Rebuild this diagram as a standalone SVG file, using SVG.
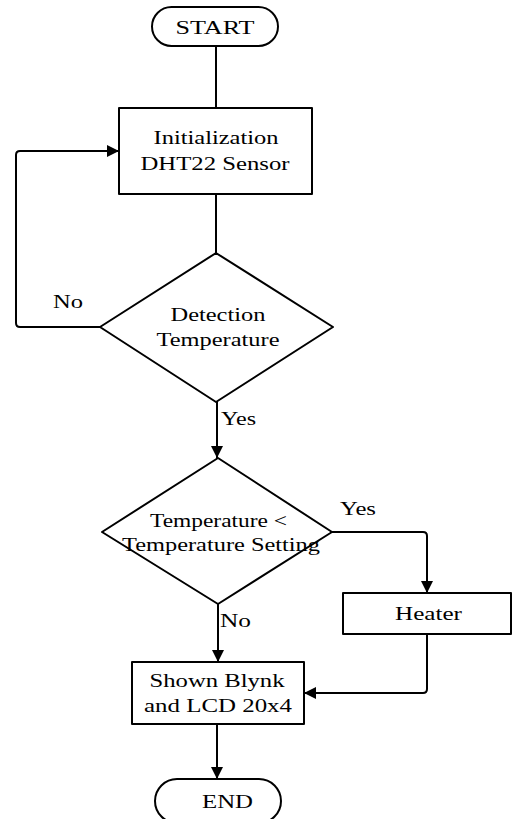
<svg xmlns="http://www.w3.org/2000/svg" width="514" height="819" viewBox="0 0 514 819">
<style>
.shape{fill:#fff;stroke:#000;stroke-width:2;stroke-linejoin:round}
.line{fill:none;stroke:#000;stroke-width:2;stroke-linejoin:round}
text{font-family:"Liberation Serif","Times New Roman",serif;fill:#000;font-size:18px}
.c{text-anchor:middle}
</style>
<defs>
<marker id="arr" markerWidth="12" markerHeight="12" viewBox="0 0 12 12" refX="12" refY="6" orient="auto" markerUnits="userSpaceOnUse">
<path d="M0,0 L12,6 L0,12 Z" fill="#000"/>
</marker>
</defs>
<rect width="514" height="819" fill="#fff"/>
<g id="connectors">
<path class="line" d="M216,46 L216,108"/>
<path class="line" d="M216,194 L216,253"/>
<path class="line" d="M100,327 L20,327 Q16,327 16,323 L16,155 Q16,151 20,151 L119,151" marker-end="url(#arr)"/>
<path class="line" d="M217,402 L217,458" marker-end="url(#arr)"/>
<path class="line" d="M332,532 L423,532 Q427,532 427,536 L427,593" marker-end="url(#arr)"/>
<path class="line" d="M218,604 L218,662" marker-end="url(#arr)"/>
<path class="line" d="M427,634 L427,689 Q427,693 423,693 L304,693" marker-end="url(#arr)"/>
<path class="line" d="M217,724 L217,779" marker-end="url(#arr)"/>
</g>
<g id="start">
<rect class="shape" x="152" y="7" width="126" height="39" rx="19.5"/>
<text class="c" x="215" y="34" textLength="79" lengthAdjust="spacingAndGlyphs">START</text>
</g>
<g id="init">
<rect class="shape" x="119" y="108" width="193" height="86"/>
<text class="c" x="216" y="144" textLength="125" lengthAdjust="spacingAndGlyphs">Initialization</text>
<text class="c" x="215" y="170" textLength="149" lengthAdjust="spacingAndGlyphs">DHT22 Sensor</text>
</g>
<g id="detect">
<polygon class="shape" points="216,253 333,327 216,402 100,327"/>
<text class="c" x="218" y="321" textLength="95" lengthAdjust="spacingAndGlyphs">Detection</text>
<text class="c" x="218" y="346" textLength="123" lengthAdjust="spacingAndGlyphs">Temperature</text>
<text x="53" y="308" textLength="30" lengthAdjust="spacingAndGlyphs">No</text>
<text x="221" y="425" textLength="35" lengthAdjust="spacingAndGlyphs">Yes</text>
</g>
<g id="compare">
<polygon class="shape" points="218,458 332,532 218,604 102,532"/>
<text x="150" y="527" font-size="16" textLength="137" lengthAdjust="spacingAndGlyphs">Temperature &lt;</text>
<text x="122" y="551" font-size="17" textLength="198" lengthAdjust="spacingAndGlyphs">Temperature Setting</text>
<text x="340" y="515" textLength="36" lengthAdjust="spacingAndGlyphs">Yes</text>
<text x="220" y="627" textLength="31" lengthAdjust="spacingAndGlyphs">No</text>
</g>
<g id="heater">
<rect class="shape" x="343" y="593" width="168" height="41"/>
<text x="395" y="620" textLength="67" lengthAdjust="spacingAndGlyphs">Heater</text>
</g>
<g id="shown">
<rect class="shape" x="132" y="662" width="172" height="62"/>
<text class="c" x="217" y="687" textLength="135" lengthAdjust="spacingAndGlyphs">Shown Blynk</text>
<text class="c" x="218" y="712" textLength="148" lengthAdjust="spacingAndGlyphs">and LCD 20x4</text>
</g>
<g id="end">
<rect class="shape" x="155" y="779" width="126" height="44" rx="22"/>
<text x="202" y="808" textLength="51" lengthAdjust="spacingAndGlyphs">END</text>
</g>
</svg>
